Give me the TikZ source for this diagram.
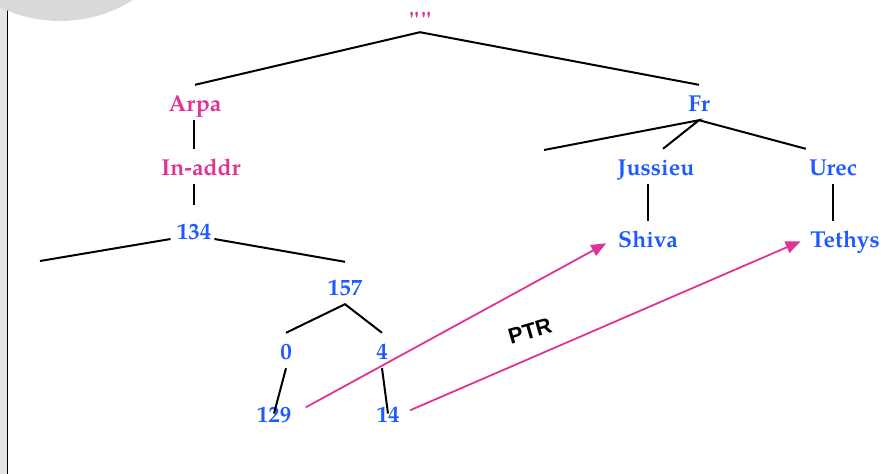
\documentclass[tikz,border=0pt]{standalone}
\usepackage{fontspec}
\usepackage{tikz}
\usetikzlibrary{arrows.meta,positioning}
\setmainfont{TeX Gyre Pagella}
\newfontfamily\ptrfont{Liberation Sans}
\definecolor{dnspink}{RGB}{222,52,148}
\definecolor{dnsblue}{RGB}{30,90,255}

\begin{document}
\begin{tikzpicture}[x=1pt, y=-1pt,
    lbl/.style={font=\fontsize{23}{27}\selectfont\bfseries, anchor=base, inner sep=3pt, text height=23pt, text depth=6pt},
    pinklbl/.style={lbl, text=dnspink},
    bluelbl/.style={lbl, text=dnsblue},
    treeline/.style={line width=2pt},
    ptrarrow/.style={-{Triangle[length=15pt,width=12pt]}, line width=1.8pt, color=dnspink}]

    \useasboundingbox (0,0) rectangle (887,474);
    % slide decoration
    \fill[black!10] (0,0) rectangle (7,474);
    \draw[line width=1.6pt] (7.5,0) -- (7.5,474);
    \fill[black!15] (60,-116) circle (137pt);

    % arpa branch
    \node[pinklbl] (root) at (420,28) {\textquotedbl\kern3pt\textquotedbl};
    \node[pinklbl] (arpa) at (195,111) {Arpa};
    \node[pinklbl] (inaddr) at (201,175) {In-addr};
    \node[bluelbl] (n134) at (194,239) {134};
    \node[bluelbl] (n157) at (345,295) {157};
    \node[bluelbl] (n0) at (286,359) {0};
    \node[bluelbl] (n4) at (382,359) {4};
    \node[bluelbl] (n129) at (274,422) {129};
    \node[bluelbl] (n14) at (388,422) {14};
    % fr branch
    \node[bluelbl] (fr) at (699,111) {Fr};
    \node[bluelbl] (jussieu) at (656,175) {Jussieu};
    \node[bluelbl] (urec) at (833,175) {Urec};
    \node[bluelbl] (shiva) at (648,247) {Shiva};
    \node[bluelbl] (tethys) at (845,247) {Tethys};

    \coordinate (left134) at (40,261);
    \coordinate (leftfr) at (544,150);

    \draw[treeline] (arpa.north) -- ([yshift=5pt]root.south) -- (fr.north);
    \draw[treeline] (n134.north |- arpa.south) -- (n134.north |- inaddr.north);
    \draw[treeline] (n134.north |- inaddr.south) -- ([yshift=8pt]n134.north);
    \draw[treeline] (left134) -- ([xshift=-3pt]n134.base west);
    \draw[treeline] (n134.base east) -- ([yshift=7pt]n157.north);
    \draw[treeline] (n0.north) -- (n157.south) -- (n4.north);
    \draw[treeline] (n0.south) -- (n129.center);
    \draw[treeline] (n4.south) -- (n14.center);
    \draw[treeline] (leftfr) -- (fr.south) -- ([xshift=7pt]jussieu.north);
    \draw[treeline] (fr.south) -- (urec.north west);
    \draw[treeline] (shiva.north |- jussieu.south) -- (shiva.north);
    \draw[treeline] (urec.south) -- (urec.south |- tethys.north);

    % reverse pointers
    \draw[ptrarrow, shorten <=13pt, shorten >=10pt] (n129.east) -- (shiva.west);
    \draw[ptrarrow, shorten <=8pt, shorten >=7pt] (n14.east) -- (tethys.west);
    \node[font=\ptrfont\bfseries\fontsize{22}{26}\selectfont, rotate=16] (ptrlbl) at (530,331) {PTR};
\end{tikzpicture}
\end{document}
